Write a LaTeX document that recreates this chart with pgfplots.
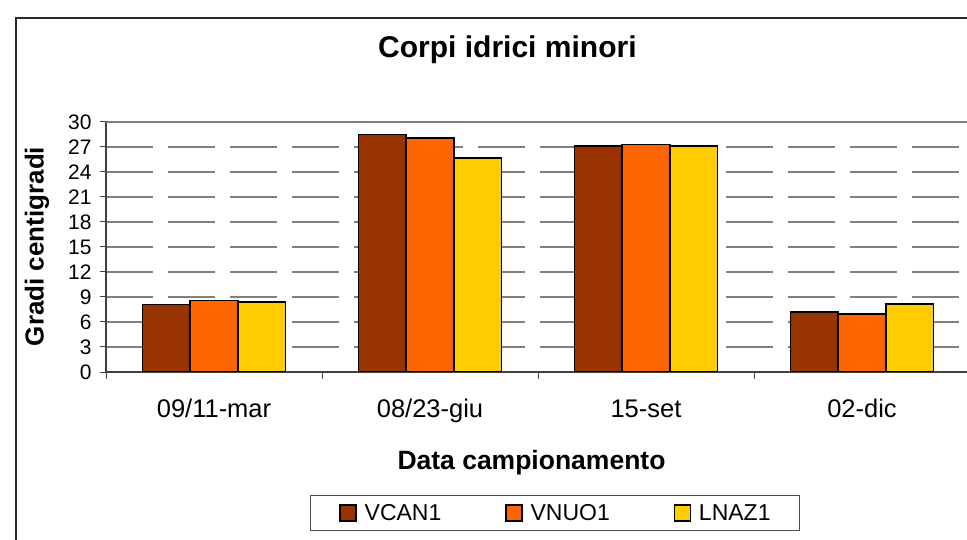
\documentclass[border=0pt]{standalone}
\usepackage{fontspec}
\setmainfont{Liberation Sans}
\usepackage{pgfplots}
\pgfplotsset{compat=1.18}

\definecolor{vcan}{HTML}{993300}
\definecolor{vnuo}{HTML}{FF6600}
\definecolor{lnaz}{HTML}{FFCC00}
\definecolor{gridgray}{HTML}{808080}
\newcommand{\fs}[1]{\fontsize{#1}{#1}\selectfont}

\begin{document}
\begin{tikzpicture}
\useasboundingbox (0,0) rectangle (967bp,540bp);
\fill[white] (0,0) rectangle (967bp,540bp);
% chart area frame (right and bottom edges fall outside the picture)
\draw[line width=2bp, black!85] (16bp,-5bp) -- (16bp,522bp) -- (975bp,522bp);
\begin{axis}[
  at={(106bp,168bp)}, anchor=south west,
  scale only axis, width=864bp, height=250bp,
  xmin=-0.5, xmax=3.5, ymin=0, ymax=30,
  axis lines=left, axis line style={-, black!75, line width=1.2bp},
  ybar=0pt, bar width=47.7bp,
  xtick={0,1,2,3},
  xticklabels={09/11-mar,08/23-giu,15-set,02-dic},
  minor xtick={-0.5,0.5,1.5,2.5,3.5},
  major x tick style={draw=none},
  minor x tick style={black!75, line width=1bp},
  minor tick length=7bp,
  tick align=outside, major tick length=6bp,
  ytick={0,3,...,27}, extra y ticks={30},
  y tick style={black!75, line width=1bp},
  ymajorgrids,
  major grid style={gridgray, line width=1.4bp, dash pattern=on 47bp off 15bp},
  extra y tick style={major grid style={gridgray, line width=1.6bp, solid}},
  /pgf/number format/assume math mode=true,
  xticklabel style={font=\fs{25.5bp}, anchor=base, yshift=-39bp},
  yticklabel style={font=\fs{21bp}, xshift=-5bp},
  title={Corpi idrici minori},
  title style={font=\bfseries\fs{30bp}, at={(axis description cs:0.4646,1.236)}, anchor=base},
  xlabel={Data campionamento},
  xlabel style={font=\bfseries\fs{26.5bp}, at={(axis description cs:0.4925,-0.388)}, anchor=base},
  ylabel={Gradi centigradi},
  ylabel style={font=\bfseries\fs{26bp}, at={(axis description cs:-0.0799,0.502)}, anchor=center},
  legend columns=3,
  legend image code/.code={\draw[#1, draw=black, line width=1.2bp] (0bp,-8bp) rectangle (16bp,8bp);},
  legend style={at={(axis description cs:0.5197,-0.564)}, anchor=center,
    font=\fs{23bp}, draw=black!70, line width=1.2bp,
    inner xsep=29bp, inner ysep=7bp,
    nodes={inner xsep=0bp},
    /tikz/every odd column/.append style={column sep=8bp},
    /tikz/every even column/.append style={column sep=64bp}},
]
\addplot[fill=vcan, draw=black, line width=1.5bp]
  coordinates {(0,8.1)(1,28.5)(2,27.1)(3,7.2)};
\addlegendentry{VCAN1}
\addplot[fill=vnuo, draw=black, line width=1.5bp]
  coordinates {(0,8.6)(1,28.05)(2,27.3)(3,6.95)};
\addlegendentry{VNUO1}
\addplot[fill=lnaz, draw=black, line width=1.5bp]
  coordinates {(0,8.4)(1,25.65)(2,27.1)(3,8.15)};
\addlegendentry{LNAZ1}
\end{axis}
\end{tikzpicture}
\end{document}
